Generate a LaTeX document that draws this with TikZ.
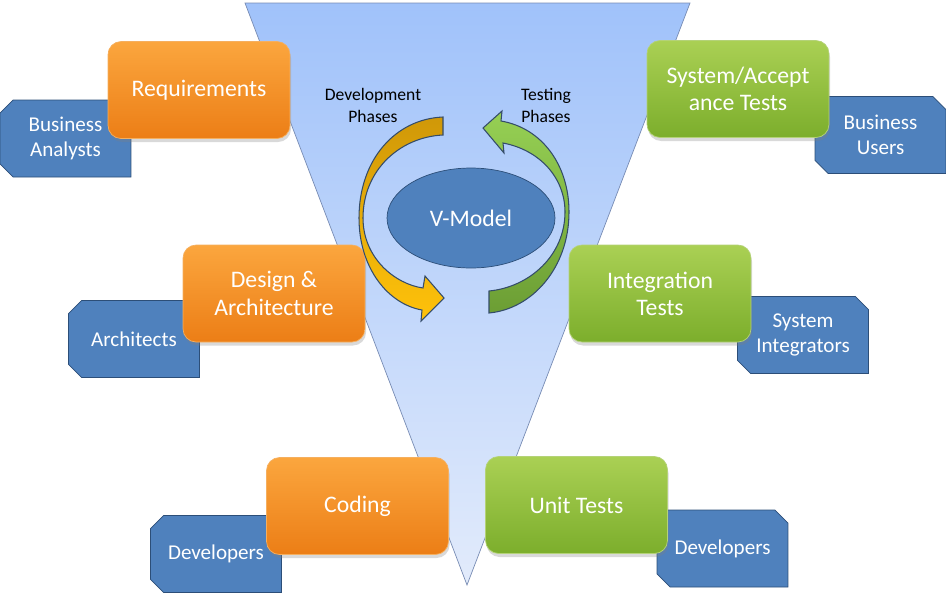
\documentclass[tikz,border=0pt]{standalone}
\usepackage{fontspec}
\setmainfont{Carlito}
\usetikzlibrary{shapes.misc,shapes.geometric,shadows}

\definecolor{vtop}{RGB}{160,194,250}
\definecolor{vbottom}{RGB}{226,235,251}
\definecolor{vedge}{RGB}{120,140,180}
\definecolor{devtop}{RGB}{251,166,62}
\definecolor{devbottom}{RGB}{236,126,22}
\definecolor{devedge}{RGB}{245,175,95}
\definecolor{testtop}{RGB}{170,208,84}
\definecolor{testbottom}{RGB}{124,174,44}
\definecolor{testedge}{RGB}{180,210,120}
\definecolor{rolefill}{RGB}{79,129,189}
\definecolor{roleedge}{RGB}{44,78,120}
\definecolor{devarrowtop}{RGB}{208,152,8}
\definecolor{devarrowbottom}{RGB}{255,194,10}
\definecolor{testarrowtop}{RGB}{150,208,84}
\definecolor{testarrowbottom}{RGB}{108,158,52}
\definecolor{arrowedge}{RGB}{52,76,106}

\begin{document}
\begin{tikzpicture}[
  x=0.02cm, y=-0.02cm,
  box/.style={rectangle, rounded corners=0.26cm, minimum width=3.64cm, minimum height=1.94cm,
    align=center, text=white, font=\fontsize{13.5}{15.5}\selectfont,
    drop shadow={shadow xshift=0.6pt, shadow yshift=-2pt, opacity=0.3}},
  devbox/.style={box, draw=devedge, top color=devtop, bottom color=devbottom},
  testbox/.style={box, draw=testedge, top color=testtop, bottom color=testbottom},
  role/.style={chamfered rectangle, chamfered rectangle sep=0.13cm, draw=roleedge, fill=rolefill,
    minimum width=2.62cm, minimum height=1.54cm, inner sep=0pt, align=center, text=white,
    font=\fontsize{12}{14.2}\selectfont},
  rolel/.style={role, chamfered rectangle corners={north west, south west}},
  roler/.style={role, chamfered rectangle corners={north east, south west}},
  hub/.style={ellipse, draw=roleedge, fill=rolefill, minimum width=3.36cm, minimum height=2cm,
    text=white, font=\fontsize{13.5}{16}\selectfont},
  note/.style={align=center, font=\fontsize{10}{12.5}\selectfont},
  cyclearrow/.style={draw=arrowedge, line width=0.6pt}
]
\useasboundingbox (0,0) rectangle (946,593);

% The V
\draw[vedge, top color=vtop, bottom color=vbottom] (245,3) -- (690,3) -- (467,585) -- cycle;

% Roles behind the phases
\node[rolel] (ba) at (65.5,138.5) {Business\\Analysts};
\node[rolel] (arch) at (134,339) {Architects};
\node[rolel] (devl) at (216,554) {Developers};
\node[roler] (bu) at (880.5,135) {Business\\Users};
\node[roler] (si) at (803,335) {System\\Integrators};
\node[roler] (devr) at (722.5,548.5) {Developers};

% Development phases (left arm)
\node[devbox] (req) at (199,90) {Requirements};
\node[devbox] (design) at (274,293.5) {Design \&\\Architecture};
\node[devbox] (coding) at (357.5,506) {Coding};

% Testing phases (right arm)
\node[testbox] (sysacc) at (738,89) {System/Accept\\ance Tests};
\node[testbox] (integ) at (660,293.5) {Integration\\Tests};
\node[testbox] (unit) at (576.5,505) {Unit Tests};

% Centre: cycle arrows
\draw[cyclearrow, top color=devarrowtop, bottom color=devarrowbottom]
  (443,117) .. controls (395,119) and (359,160) .. (359,218)
  .. controls (359,268) and (388,304) .. (422,310)
  -- (421,321) -- (444,298) -- (425,276) -- (423,288)
  .. controls (395,284) and (363,258) .. (363,218)
  .. controls (363,170) and (400,137) .. (443,135) -- cycle;
\draw[cyclearrow, top color=testarrowtop, bottom color=testarrowbottom]
  (483,128) -- (502,111) -- (501,121)
  .. controls (542,128) and (569,165) .. (569,212)
  .. controls (569,268) and (532,309) .. (489,313)
  -- (489,291)
  .. controls (530,287) and (565,255) .. (565,212)
  .. controls (565,178) and (540,150) .. (503,143)
  -- (504,153) -- cycle;

\node[hub] (vmodel) at (471,218) {V-Model};
\node[note] (devlabel) at (373,105) {Development\\Phases};
\node[note] (testlabel) at (546,105) {Testing\\Phases};

\end{tikzpicture}
\end{document}
